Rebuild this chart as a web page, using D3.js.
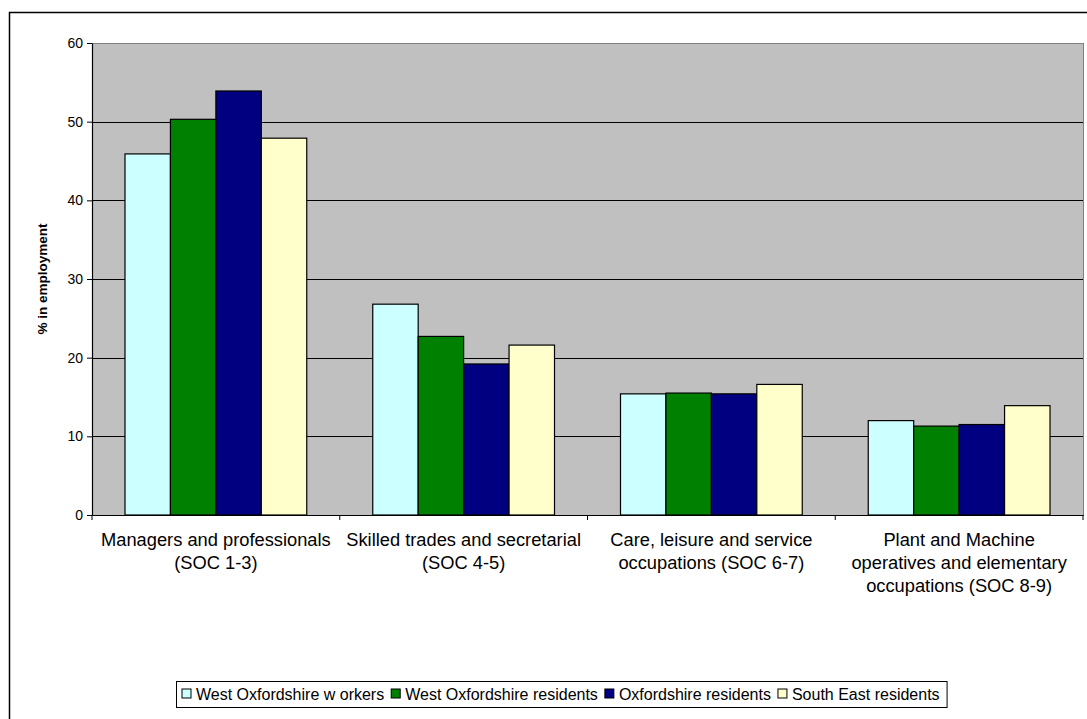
<!DOCTYPE html>
<html>
<head>
<meta charset="utf-8">
<script src="https://cdn.jsdelivr.net/npm/d3@7"></script>
<style>
  html, body { margin: 0; padding: 0; background: #fff; }
  svg { display: block; font-family: "Liberation Sans", Arial, sans-serif; }
</style>
</head>
<body>
<svg id="chart" width="1087" height="719"></svg>
<script>
// ---- data ----
const categories = [
  "Managers and professionals (SOC 1-3)",
  "Skilled trades and secretarial (SOC 4-5)",
  "Care, leisure and service occupations (SOC 6-7)",
  "Plant and Machine operatives and elementary occupations (SOC 8-9)"
];
const categoryLines = [
  ["Managers and professionals", "(SOC 1-3)"],
  ["Skilled trades and secretarial", "(SOC 4-5)"],
  ["Care, leisure and service", "occupations (SOC 6-7)"],
  ["Plant and Machine", "operatives and elementary", "occupations (SOC 8-9)"]
];
const seriesNames = [
  "West Oxfordshire w orkers",
  "West Oxfordshire residents",
  "Oxfordshire residents",
  "South East residents"
];
const westOxWorkers   = [45.9, 26.8, 15.4, 12.0];
const westOxResidents = [50.3, 22.7, 15.5, 11.3];
const oxResidents     = [53.9, 19.2, 15.4, 11.5];
const southEastRes    = [47.9, 21.6, 16.6, 13.9];
const seriesValues = [westOxWorkers, westOxResidents, oxResidents, southEastRes];
const seriesColors = ["#CCFFFF", "#008000", "#000080", "#FFFFCC"];
const yTicks = [0, 10, 20, 30, 40, 50, 60];
const yTitle = "% in employment";

// ---- layout ----
const svg = d3.select("#chart");
const plot = { left: 92, right: 1083, top: 43, bottom: 515 };

// outer chart border
svg.append("rect")
  .attr("x", 9.5).attr("y", 12.5)
  .attr("width", 1200).attr("height", 800)
  .attr("fill", "#fff").attr("stroke", "#000").attr("stroke-width", 1.5);

const y = d3.scaleLinear().domain([0, 60]).range([plot.bottom, plot.top]);
const x = d3.scaleBand().domain(categories).range([plot.left, plot.right]).paddingInner(0).paddingOuter(0);
const inner = d3.scaleBand().domain(seriesNames)
  .range([33, x.bandwidth() - 33]).paddingInner(0).paddingOuter(0);

// plot area background
svg.append("rect")
  .attr("x", plot.left).attr("y", plot.top)
  .attr("width", plot.right - plot.left).attr("height", plot.bottom - plot.top)
  .attr("fill", "#C0C0C0");

// gridlines
svg.append("g")
  .attr("transform", `translate(${plot.left},0)`)
  .call(d3.axisRight(y).tickValues(yTicks.filter(t => t > 0 && t < 60)).tickSize(plot.right - plot.left).tickFormat(""))
  .call(g => g.select(".domain").remove())
  .call(g => g.selectAll("line").attr("stroke", "#000").attr("stroke-width", 1)
      .attr("shape-rendering", "crispEdges"));

// plot border (gray)
svg.append("rect")
  .attr("x", plot.left).attr("y", plot.top)
  .attr("width", plot.right - plot.left).attr("height", plot.bottom - plot.top)
  .attr("fill", "none").attr("stroke", "#808080").attr("stroke-width", 1)
  .attr("shape-rendering", "crispEdges");

// bars
const rows = categories.map((c, i) => ({ cat: c, vals: seriesNames.map((s, j) => ({ s, j, v: seriesValues[j][i] })) }));
svg.append("g").selectAll("g").data(rows).join("g")
  .attr("transform", d => `translate(${x(d.cat)},0)`)
  .selectAll("rect").data(d => d.vals).join("rect")
  .attr("x", d => inner(d.s))
  .attr("y", d => y(d.v))
  .attr("width", inner.bandwidth())
  .attr("height", d => y(0) - y(d.v))
  .attr("fill", d => seriesColors[d.j])
  .attr("stroke", "#000").attr("stroke-width", 1.2);

// y axis
const yAxis = svg.append("g")
  .attr("transform", `translate(${plot.left},0)`)
  .call(d3.axisLeft(y).tickValues(yTicks).tickSize(5).tickPadding(4).tickSizeOuter(0));
yAxis.select(".domain").attr("stroke", "#000").attr("stroke-width", 1.2);
yAxis.selectAll("line").attr("stroke", "#000");
yAxis.selectAll("text").attr("font-size", "14px").attr("fill", "#000")
  .attr("font-family", "'Liberation Sans', Arial, sans-serif");

// x axis
const xAxis = svg.append("g")
  .attr("transform", `translate(0,${plot.bottom})`)
  .call(d3.axisBottom(x).tickSize(0).tickFormat(""));
xAxis.select(".domain").attr("stroke", "#000").attr("stroke-width", 1.2);
const boundaries = categories.map(c => x(c)).concat([plot.right]);
xAxis.selectAll(".bound").data(boundaries).join("line")
  .attr("class", "bound")
  .attr("x1", d => d).attr("x2", d => d)
  .attr("y1", 0).attr("y2", 5)
  .attr("stroke", "#000");

// category labels
const catLabels = svg.append("g");
categories.forEach((c, i) => {
  const t = catLabels.append("text")
    .attr("x", x(c) + x.bandwidth() / 2)
    .attr("y", 546)
    .attr("text-anchor", "middle")
    .attr("font-size", "18.3px")
    .attr("fill", "#000");
  categoryLines[i].forEach((line, k) => {
    t.append("tspan").attr("x", x(c) + x.bandwidth() / 2).attr("y", 546 + k * 23).text(line);
  });
});

// y title
svg.append("text")
  .attr("transform", `translate(47,${(plot.top + plot.bottom) / 2}) rotate(-90)`)
  .attr("text-anchor", "middle")
  .attr("font-size", "13.5px").attr("font-weight", "bold")
  .text(yTitle);

// legend
const legend = svg.append("g");
const legendBox = legend.append("rect")
  .attr("fill", "#fff").attr("stroke", "#000").attr("stroke-width", 1);
let lx = 182;
const ly = 694;
seriesNames.forEach((s, j) => {
  legend.append("rect")
    .attr("x", lx).attr("y", ly - 5).attr("width", 9).attr("height", 9)
    .attr("fill", seriesColors[j]).attr("stroke", "#000").attr("stroke-width", 1);
  const t = legend.append("text")
    .attr("x", lx + 14).attr("y", ly + 5.5)
    .attr("font-size", "16px").attr("fill", "#000")
    .text(s);
  lx += 14 + t.node().getComputedTextLength() + 7;
});
legendBox.attr("x", 176.5).attr("y", 681.5).attr("width", lx - 176).attr("height", 26);
</script>
</body>
</html>
